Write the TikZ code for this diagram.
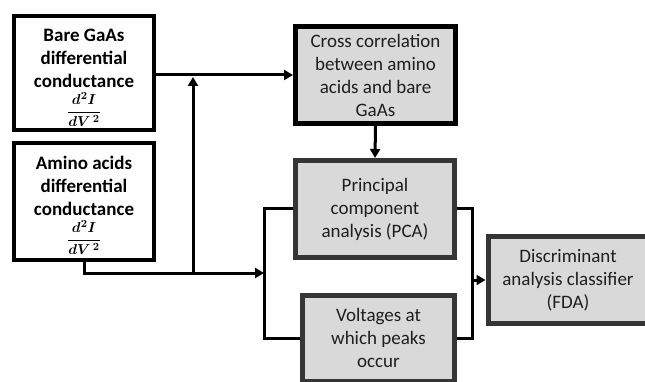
\documentclass[tikz,border=0pt]{standalone}
\usepackage{fontspec}
\setmainfont{Carlito}
\usetikzlibrary{arrows.meta}
\definecolor{boxgray}{HTML}{D9D9D9}
\definecolor{edgegray}{HTML}{353535}
\definecolor{txt}{HTML}{1E1E1E}
\newcommand{\dfracd}{{\fontsize{15}{18}\selectfont\boldmath$\displaystyle\frac{d^2I}{dV^{\,2}}$}}
\begin{document}
\begin{tikzpicture}[x=1pt,y=-1pt,
  wbox/.style={draw=black, line width=4pt, fill=white, inner sep=0pt},
  wtext/.style={inner sep=0pt, align=center, font=\bfseries\fontsize{19}{23}\selectfont, text=black},
  gbox/.style={draw=edgegray, line width=5pt, fill=boxgray, inner sep=0pt, align=center,
    font=\fontsize{19}{23}\selectfont, text=txt},
  conn/.style={line width=3pt, draw=black},
  arr/.style={conn, -{Triangle[length=9pt,width=10pt]}},
]
\useasboundingbox (0,0) rectangle (645,382);
\clip (0,0) rectangle (645,382);

\node[wbox, minimum width=140pt, minimum height=114pt] (bare) at (84,73) {};
\node[wtext] (bareT) at (84,77.5)
  {Bare GaAs\\differential\\conductance\\[4pt]\dfracd};
\node[wbox, minimum width=140pt, minimum height=117pt] (amino) at (84,201.5) {};
\node[wtext] (aminoT) at (84,205)
  {Amino acids\\differential\\conductance\\[4pt]\dfracd};

\node[gbox, draw=black, minimum width=160pt, minimum height=97pt] (cross) at (375.5,75)
  {Cross correlation\\between amino\\acids and bare\\GaAs};
\node[gbox, minimum width=159pt, minimum height=97pt] (pca) at (375,209)
  {Principal\\component\\analysis (PCA)};
\node[gbox, minimum width=152pt, minimum height=86pt] (volt) at (378.5,338)
  {Voltages at\\which peaks\\occur};
\node[gbox, minimum width=160pt, minimum height=87pt] (fda) at (568,280)
  {Discriminant\\analysis classifier\\(FDA)};

\coordinate (j1) at (193,77);
\coordinate (j2) at (193,273);
\coordinate (lb) at (264,273);
\coordinate (rb) at (472,280);

\draw[arr] (bare.east |- cross.west) -- (cross.west);
\draw[arr] (amino.south) |- (lb);
\draw[arr] (j2) -- (j1);
\draw[arr] (cross.south) -- (pca.north);
\draw[conn] (pca.west) -- (pca.west -| lb) -- (volt.west -| lb) -- (volt.west);
\draw[conn] (pca.east) -- (pca.east -| rb) -- (volt.east -| rb) -- (volt.east);
\draw[arr] (rb) -- (fda.west);
\end{tikzpicture}
\end{document}
